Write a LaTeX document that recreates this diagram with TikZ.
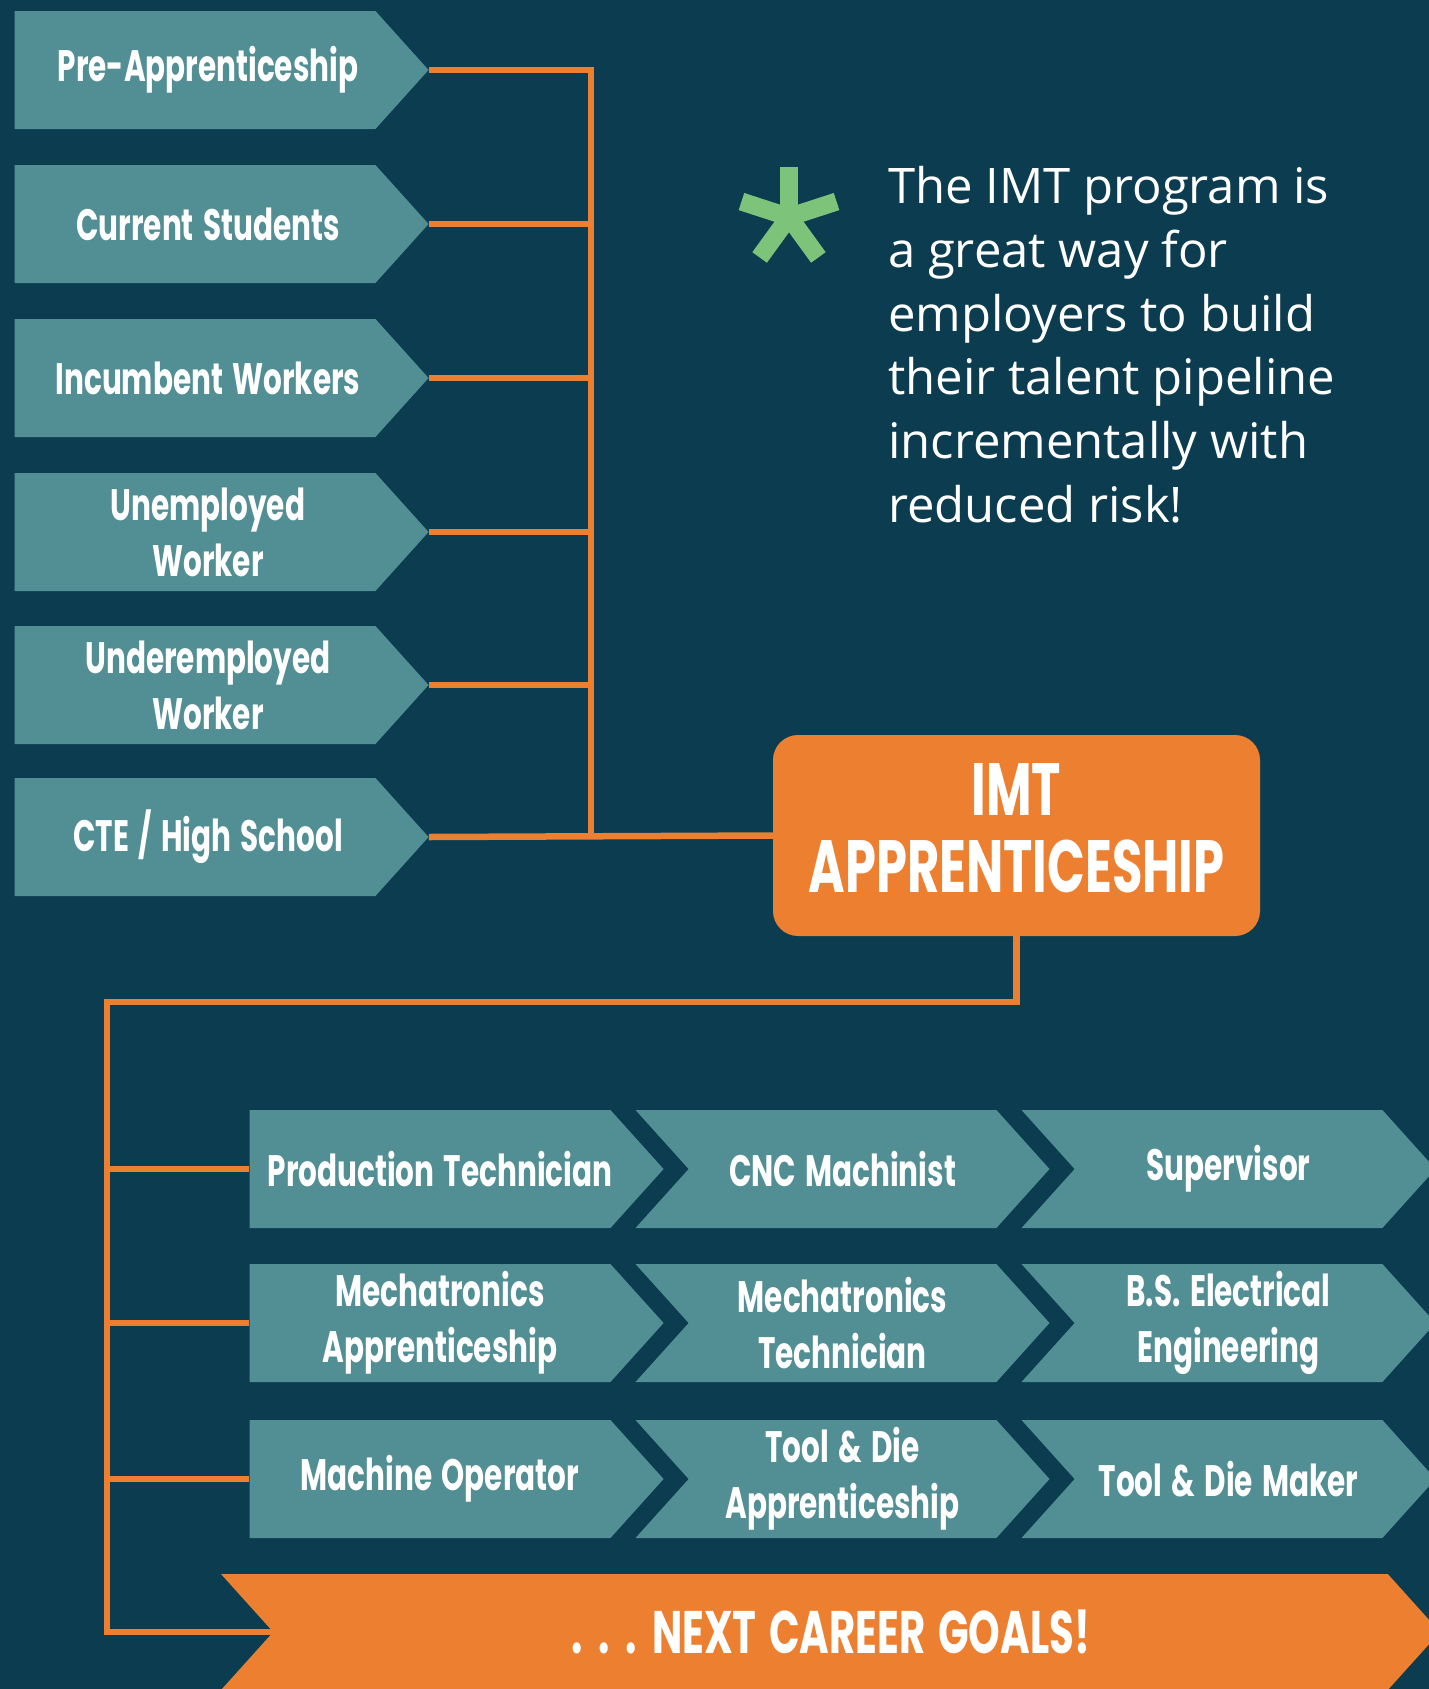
\documentclass[tikz,border=0pt]{standalone}
\usepackage{fontspec}
\setmainfont{Open Sans}
\newfontfamily\condfont{Poppins}[FakeStretch=0.67, WordSpace=1.5]
\usetikzlibrary{shapes.symbols,backgrounds}

\definecolor{bgblue}{HTML}{0B3C50}
\definecolor{boxteal}{HTML}{528F94}
\definecolor{imtorange}{HTML}{ED7F30}
\definecolor{stargreen}{HTML}{7EC37A}

\tikzset{
  stepbox/.style={signal, signal to=east, fill=boxteal,
    minimum width=414pt, minimum height=118pt, inner sep=0pt,
    signal pointer angle=96},
  jobbox/.style={stepbox, signal from=west},
  boxtext/.style={text=white, align=center, inner sep=0pt,
    font=\condfont\bfseries\fontsize{44}{56}\selectfont},
  say/.style={label={[boxtext]center:#1}},
  link/.style={draw=imtorange, line width=6.5pt},
}

\begin{document}
\begin{tikzpicture}[x=1pt,y=-1pt]
\useasboundingbox (0,0) rectangle (1429,1689);

% who comes in
\begin{scope}[boxtext/.append style={xshift=13pt}]
\node[stepbox, say={Pre-Apprenticeship}] (pre) at (195,70) {};
\node[stepbox, say={Current Students}] (cur) at (195,224) {};
\node[stepbox, say={Incumbent Workers}] (inc) at (195,378) {};
\node[stepbox, say={Unemployed\\Worker}] (une) at (195,532) {};
\node[stepbox, say={Underemployed\\Worker}] (und) at (195,685) {};
\node[stepbox, say={CTE / High School}] (cte) at (195,837) {};
\end{scope}

\node[fill=imtorange, text=white, rounded corners=25pt, minimum width=487pt,
  minimum height=201pt, align=center,
  font=\condfont\bfseries\fontsize{74}{77}\selectfont] (imt) at (1016.5,835.5)
  {IMT\\APPRENTICESHIP\rule[-14pt]{0pt}{0pt}};

% the note
\fill[stargreen] (789,217) circle (9pt);
\foreach \a in {18,90,162,234,306}
  \draw[stargreen, line width=18pt] (789,217) -- ++(\a:50pt);
\node[anchor=north west, inner sep=0pt, text=white, align=left,
  font=\fontsize{49}{63.8}\selectfont] (note) at (888,166)
  {The IMT program is\\a great way for\\employers to build\\their talent pipeline\\incrementally with\\reduced risk!};

% career paths
\begin{scope}[boxtext/.append style={xshift=10pt}]
\node[stepbox, say={Production Technician}] (prod) at (430,1169) {};
\node[stepbox, say={Mechatronics\\Apprenticeship}] (mapp) at (430,1323) {};
\node[stepbox, say={Machine Operator}] (mop) at (430,1479) {};
\end{scope}
\node[jobbox, say={CNC Machinist}] (cnc) at (842.5,1169) {};
\node[jobbox, say={Supervisor}] (sup) at (1228.5,1169) {};
\node[jobbox, say={Mechatronics\\Technician}] (mtec) at (842.5,1323) {};
\node[jobbox, say={B.S. Electrical\\Engineering}] (bsee) at (1228.5,1323) {};
\node[jobbox, say={Tool \& Die\\Apprenticeship}] (tdapp) at (842.5,1479) {};
\node[jobbox, say={Tool \& Die Maker}] (tdm) at (1228.5,1479) {};

\node[jobbox, fill=imtorange, minimum width=1219pt, minimum height=116pt,
  text=white, font=\condfont\bfseries\fontsize{60}{60}\selectfont] (goals)
  at (830.5,1632) {. . . NEXT CAREER GOALS!};

\begin{pgfonlayer}{background}
\fill[bgblue] (0,0) rectangle (1429,1689);
\coordinate (bus) at (591,0);
\coordinate (split) at (107,1002);
\draw[link] (pre.east) -- (pre.east -| bus) -- (cte.east -| bus);
\foreach \n in {cur,inc,une,und}
  \draw[link] (\n.east) -- (\n.east -| bus);
\draw[link] (cte.east) -- (imt.west);
\draw[link] (imt.south) |- (split) |- (goals.center);
\foreach \n in {prod,mapp,mop}
  \draw[link] (split |- \n.west) -- (\n.west);
\end{pgfonlayer}
\end{tikzpicture}
\end{document}
